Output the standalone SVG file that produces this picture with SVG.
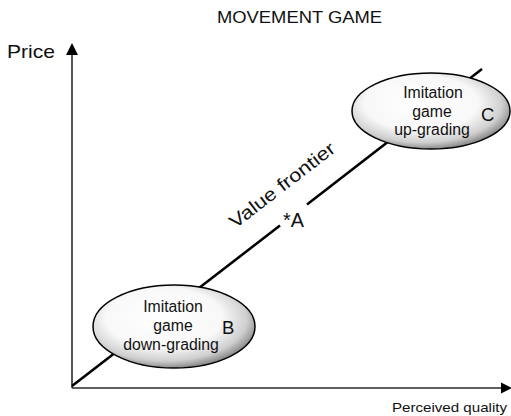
<svg xmlns="http://www.w3.org/2000/svg" width="511" height="416" viewBox="0 0 511 416">
  <style>
    text { font-family: "Liberation Sans", Arial, sans-serif; fill: #111; }
    .axis { stroke: #2a2a2a; stroke-width: 1.6; fill: none; }
    .frontier { stroke: #000; stroke-width: 2.6; fill: none; stroke-linecap: butt; }
    .bubble { fill: url(#shade); stroke: #000; stroke-width: 1.5; }
    .inner { font-size: 15.8px; text-anchor: middle; }
    .tag { font-size: 18.5px; }
  </style>
  <defs>
    <radialGradient id="shade" cx="0.45" cy="0.42" r="0.6" fx="0.42" fy="0.36">
      <stop offset="0" stop-color="#ffffff"/>
      <stop offset="0.6" stop-color="#f8f8f8"/>
      <stop offset="0.84" stop-color="#cfcfcf"/>
      <stop offset="1" stop-color="#7e7e7e"/>
    </radialGradient>
  </defs>

  <rect width="511" height="416" fill="#fff"/>

  <!-- title -->
  <text x="217" y="23" font-size="16.3" textLength="165" lengthAdjust="spacingAndGlyphs">MOVEMENT GAME</text>

  <!-- axes -->
  <g id="axes">
    <line class="axis" x1="72" y1="388" x2="72" y2="54"/>
    <polygon points="66,55 72,43 78,55" fill="#000"/>
    <line class="axis" x1="72" y1="388" x2="502" y2="388"/>
    <polygon points="501,382.5 512,388 501,393.5" fill="#000"/>
    <text x="7" y="58" font-size="17.8" textLength="48" lengthAdjust="spacingAndGlyphs">Price</text>
    <text x="392" y="412" font-size="13" textLength="115" lengthAdjust="spacingAndGlyphs">Perceived quality</text>
  </g>

  <!-- value frontier, broken around point A -->
  <g id="connectors">
    <line class="frontier" x1="72" y1="386" x2="280" y2="225.5"/>
    <line class="frontier" x1="307" y1="204.5" x2="482" y2="69"/>
  </g>

  <g id="frontier-label">
    <text x="0" y="0" font-size="18.5" text-anchor="middle" textLength="128" lengthAdjust="spacingAndGlyphs" transform="translate(286,190) rotate(-37.6)">Value frontier</text>
  </g>

  <g id="point-a">
    <text x="283" y="227" font-size="19.5" textLength="21" lengthAdjust="spacingAndGlyphs">*A</text>
  </g>

  <!-- imitation, down-grading -->
  <g id="node-b">
    <ellipse class="bubble" cx="174" cy="326.5" rx="81" ry="41.5"/>
    <text class="inner" x="173" y="312">Imitation</text>
    <text class="inner" x="173" y="331">game</text>
    <text class="inner" x="171" y="350">down-grading</text>
    <text class="tag" x="222" y="334">B</text>
  </g>

  <!-- imitation, up-grading -->
  <g id="node-c">
    <ellipse class="bubble" cx="431" cy="111" rx="79" ry="38"/>
    <text class="inner" x="433" y="98">Imitation</text>
    <text class="inner" x="432" y="117">game</text>
    <text class="inner" x="432" y="135">up-grading</text>
    <text class="tag" x="481" y="121">C</text>
  </g>
</svg>
